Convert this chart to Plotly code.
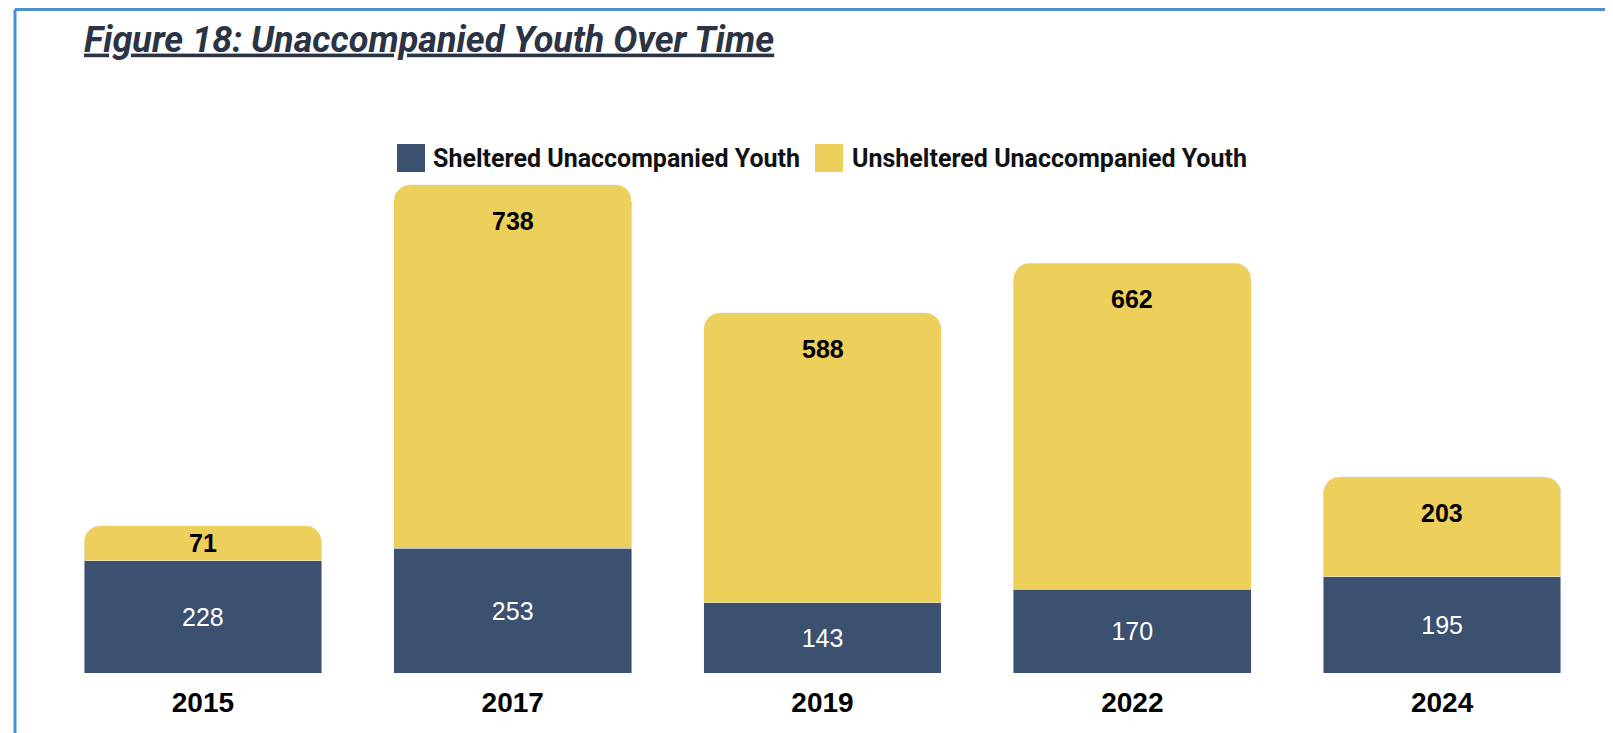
import plotly.graph_objects as go

years = ["2015", "2017", "2019", "2022", "2024"]
sheltered = [228, 253, 143, 170, 195]
unsheltered = [71, 738, 588, 662, 203]
series_names = ["Sheltered Unaccompanied Youth", "Unsheltered Unaccompanied Youth"]
title_text = "Figure 18: Unaccompanied Youth Over Time"

NAVY = "#3c5070"
YELLOW = "#edcf5c"
W, H = 1613, 733
OFF = 8  # page body margin in the screenshot
ML, MR, MT, MB = 48 - OFF, 16 + OFF, 175 - OFF, 60 + OFF
YMAX = 1011
plot_w = W - ML - MR
plot_h = H - MT - MB
px_per_unit = plot_h / YMAX

NARROW = "Roboto, Liberation Sans Narrow, sans-serif"
SANS = "Liberation Sans, Arial, Helvetica, sans-serif"


def px2x(px):
    return (px - OFF - ML) / plot_w


def py2y(py):
    return (H - MB - (py - OFF)) / plot_h


fig = go.Figure()
fig.add_trace(go.Bar(
    x=years, y=sheltered, name=series_names[0], marker_color=NAVY,
    text=[str(v) for v in sheltered], textposition="inside", insidetextanchor="middle",
    textfont=dict(color="white", size=25, family=SANS), textangle=0,
))
fig.add_trace(go.Bar(
    x=years, y=unsheltered, name=series_names[1], marker_color=YELLOW,
))

# labels of the unsheltered segments, near the top of each stack
for i, (s, u) in enumerate(zip(sheltered, unsheltered)):
    seg_px = u * px_per_unit
    offset = min(36, seg_px / 2)
    fig.add_annotation(
        x=i, y=s + u, text="<b>%d</b>" % u, showarrow=False,
        yanchor="middle", yshift=-offset,
        font=dict(color="black", size=25, family=SANS),
    )

# legend (drawn manually for larger swatches)
for (x0, x1), name, col, tx in [((397, 425), series_names[0], NAVY, 431),
                                  ((815, 843), series_names[1], YELLOW, 850)]:
    fig.add_shape(type="rect", xref="paper", yref="paper",
                  x0=px2x(x0), x1=px2x(x1), y0=py2y(172), y1=py2y(144),
                  fillcolor=col, line=dict(width=0))
    fig.add_annotation(xref="paper", yref="paper", x=px2x(tx), y=py2y(158),
                       xanchor="left", yanchor="middle", showarrow=False,
                       text="<b>%s</b>" % name,
                       font=dict(size=25, color="#111111", family=NARROW))

# blue border of the figure panel (left, top, right)
border = dict(color="#4a90d0", width=3)
bx0, bx1, by_top = px2x(15), px2x(1610), py2y(OFF + 1.5)
fig.add_shape(type="line", xref="paper", yref="paper", x0=bx0, x1=bx0,
              y0=py2y(760), y1=by_top, line=border)
fig.add_shape(type="line", xref="paper", yref="paper", x0=bx1, x1=bx1,
              y0=py2y(760), y1=by_top, line=border)
fig.add_shape(type="line", xref="paper", yref="paper", x0=bx0, x1=bx1,
              y0=by_top, y1=by_top, line=border)

fig.update_layout(
    width=W, height=H,
    margin=dict(l=ML, r=MR, t=MT, b=MB),
    barmode="stack", bargap=0.233, barcornerradius=16,
    showlegend=False,
    paper_bgcolor="white", plot_bgcolor="white",
    title=dict(text="<b><i><u>%s</u></i></b>" % title_text,
               x=(84 - OFF) / W, xanchor="left", xref="container",
               y=1 - (39 - OFF) / H, yanchor="middle", yref="container",
               font=dict(size=36, color="#2b3445", family=NARROW)),
    xaxis=dict(type="category", range=[-0.5, len(years) - 0.5], automargin=False,
               showline=False, showgrid=False, zeroline=False, ticks="",
               tickfont=dict(size=28, color="black", family=SANS),
               ticklabelstandoff=10, tickprefix="<b>", ticksuffix="</b>"),
    yaxis=dict(range=[0, YMAX], visible=False),
)

fig.write_html("out.html")
